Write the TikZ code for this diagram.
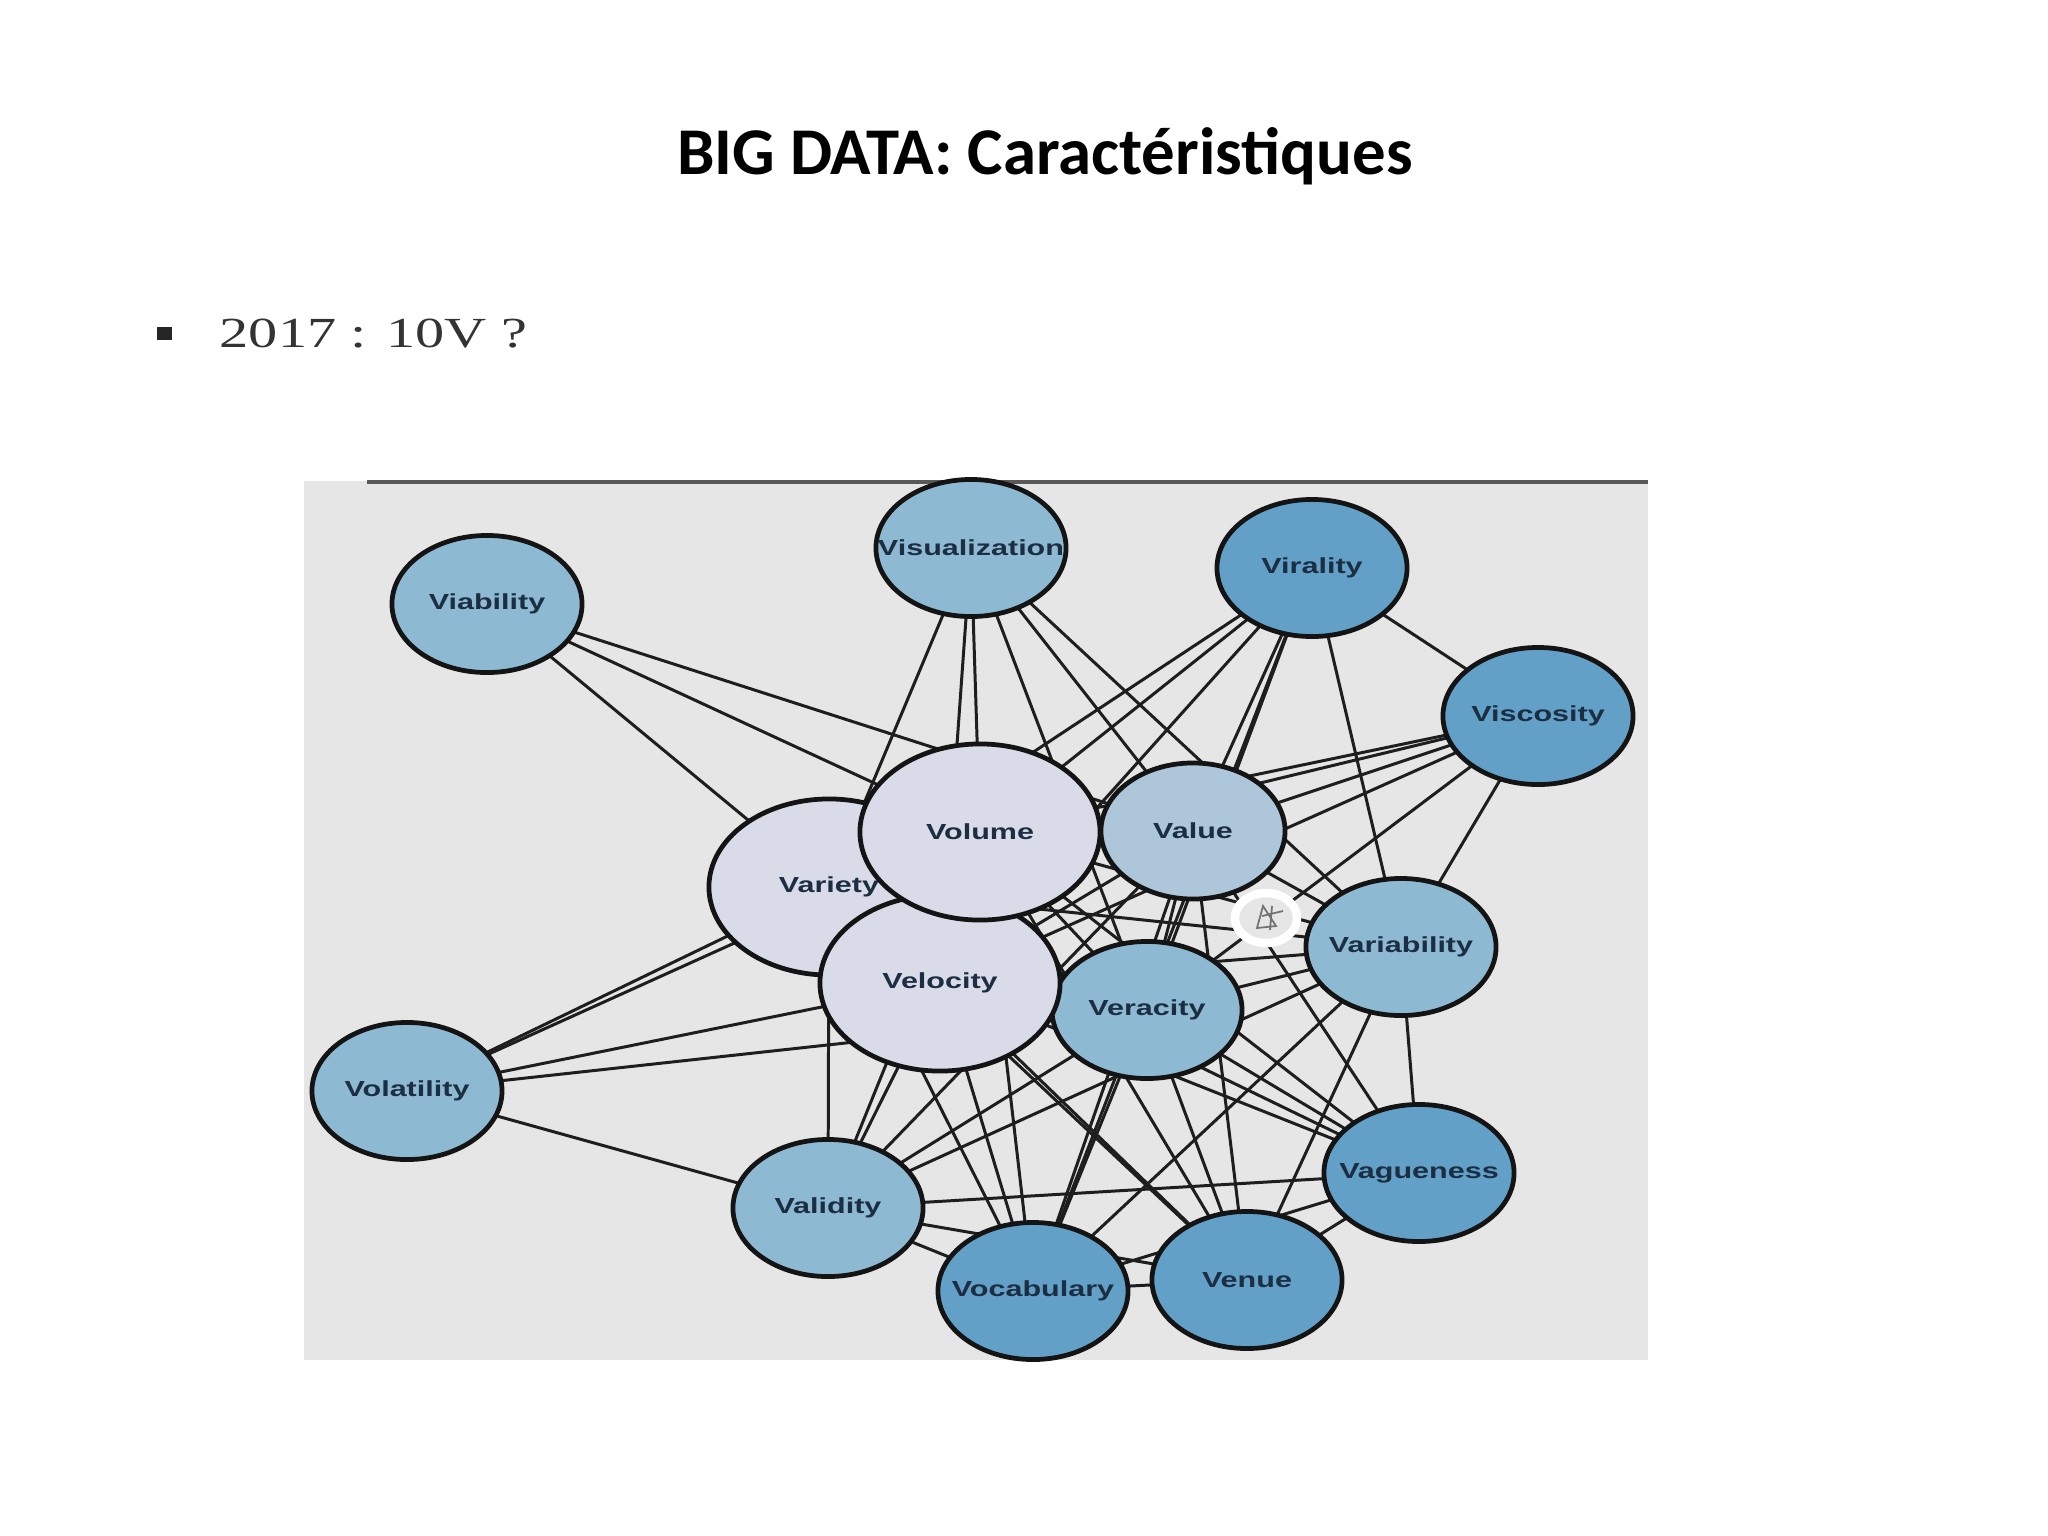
\documentclass[tikz,border=0pt]{standalone}
\usepackage{fontspec}
\setmainfont{Carlito}
\newfontfamily\vfont[FakeStretch=1.4]{Liberation Sans}
\newfontfamily\listfont[FakeStretch=1.36]{Liberation Serif}
\usetikzlibrary{shapes.geometric}
\pgfdeclarelayer{back}
\pgfdeclarelayer{links}
\pgfsetlayers{back,links,main}
\definecolor{panelgray}{HTML}{E6E6E6}
\definecolor{coreblue}{HTML}{D9DCE8}
\definecolor{valueblue}{HTML}{AEC6DA}
\definecolor{midblue}{HTML}{8DB9D3}
\definecolor{deepblue}{HTML}{62A0C8}
\definecolor{inkblue}{HTML}{1C2E42}
\definecolor{linkgray}{HTML}{1E1E1E}
\newcommand{\vname}[1]{\makebox[0pt]{#1}}

\begin{document}
\begin{tikzpicture}[x=0.01cm, y=-0.01cm,
  vbase/.style={ellipse, draw=black!92, line width=1.35pt, inner sep=0pt, outer sep=0pt,
    text=inkblue, font=\vfont\bfseries\fontsize{6.2}{7}\selectfont},
  vsmall/.style={vbase, minimum width=1.9cm, minimum height=1.37cm},
  vmid/.style={vsmall, fill=midblue},
  vdeep/.style={vsmall, fill=deepblue},
  vbig/.style={vbase, fill=coreblue, minimum width=2.4cm, minimum height=1.76cm},
  link/.style={draw=linkgray, line width=0.85pt}]
\useasboundingbox (0,0) rectangle (2048,1536);

% title and bullet line
\node[font=\bfseries\fontsize{19}{23}\selectfont, anchor=base] (title) at (1045,174) {BIG DATA: Caractéristiques};
\node[fill=black!85, minimum width=0.15cm, minimum height=0.13cm, inner sep=0pt] (dot) at (164.5,333.5) {};
\node[anchor=base west, inner sep=0pt, text=black!80, font=\listfont\fontsize{12.2}{14}\selectfont] (year) at (219,347) {2017 : 10V ?};

% grey panel
\begin{pgfonlayer}{back}
\fill[panelgray] (304,481) rectangle (1648,1360);
\draw[black!65, line width=1.1pt] (367,482) -- (1648,482);
\end{pgfonlayer}

% outer V's
\node[vmid] (via) at (487,604) {\vname{Viability}};
\node[vmid] (vis) at (971,548) {\vname{Visualization}};
\node[vdeep] (vir) at (1312,568) {\vname{Virality}};
\node[vdeep] (vsc) at (1538,716) {\vname{Viscosity}};
\node[vmid] (vbl) at (1401,947) {\vname{Variability}};
\node[vmid] (vrc) at (1147,1010) {\vname{Veracity}};
\node[vmid] (vlt) at (407,1091) {\vname{Volatility}};
\node[vmid] (vld) at (828,1208) {\vname{Validity}};
\node[vdeep] (voc) at (1033,1291) {\vname{Vocabulary}};
\node[vdeep] (ven) at (1247,1280) {\vname{Venue}};
\node[vdeep] (vag) at (1419,1173) {\vname{Vagueness}};

% core V's
\node[vbig] (var) at (829,887) {\vname{Variety}};
\node[vbig] (vel) at (940,983) {\vname{Velocity}};
\node[vbig] (vol) at (980,832) {\vname{Volume}};
\node[vsmall, fill=valueblue, minimum width=1.84cm, minimum height=1.36cm] (val) at (1193,831) {\vname{Value}};

% white marker
\node[ellipse, draw=white, line width=2.4pt, fill=panelgray, minimum width=0.62cm, minimum height=0.5cm, inner sep=0pt] (mark) at (1266,918) {};
\draw[black!55, line width=0.5pt] (1257,928) -- (1263,906) -- (1276,926) -- cycle (1262,916) -- (1283,911) (1272,906) -- (1270,930);

% links
\begin{pgfonlayer}{links}
\foreach \a/\b in {via/var, via/vol, via/val,
    vis/var, vis/vol, vis/vel, vis/val, vis/vrc, vis/vbl,
    vir/var, vir/vol, vir/vel, vir/val, vir/vrc, vir/vbl, vir/vsc, vir/voc,
    vsc/vol, vsc/var, vsc/val, vsc/vel, vsc/vrc, vsc/vbl,
    vlt/var, vlt/vol, vlt/vel, vlt/vrc, vlt/vld,
    var/vol, var/vel, vol/vel, vol/val, vel/val, vol/vrc, vel/vrc, val/vrc, var/val, var/vrc,
    vbl/var, vbl/vol, vbl/vel, vbl/val, vbl/vrc, vbl/vld, vbl/voc, vbl/ven, vbl/vag,
    vld/var, vld/vel, vld/vol, vld/val, vld/vrc, vld/vag, vld/voc, vld/ven,
    voc/var, voc/vel, voc/vol, voc/val, voc/vrc, voc/ven, voc/vag,
    ven/var, ven/vel, ven/vol, ven/val, ven/vrc, ven/vag,
    vag/var, vag/vel, vag/vol, vag/val, vag/vrc}
  \draw[link] (\a.center) -- (\b.center);
\end{pgfonlayer}
\end{tikzpicture}
\end{document}
